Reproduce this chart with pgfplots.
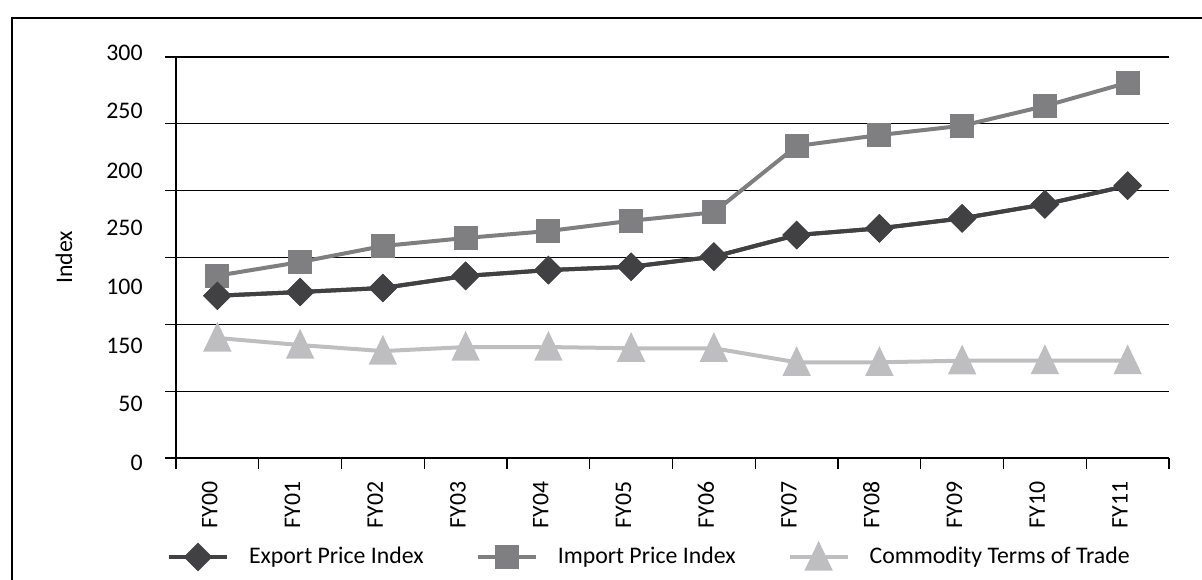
\documentclass[border=0pt]{standalone}
\usepackage{pgfplots}
\pgfplotsset{compat=1.18}
\usepackage{fontspec}
\setmainfont{Carlito}
\definecolor{cexp}{HTML}{414143}
\definecolor{cimp}{HTML}{7F7F82}
\definecolor{ccom}{HTML}{BEBEC1}
\newcommand{\chartfont}{\fontsize{11.9pt}{14pt}\selectfont}
\begin{document}
\chartfont
\begin{tikzpicture}
\useasboundingbox (-88pt,-60.5pt) rectangle (513pt,229pt);
\draw[line width=0.7pt, black] (-82pt,-70pt) -- (-82pt,220pt) -- (520pt,220pt);
\begin{axis}[
  at={(0pt,0pt)}, anchor=south west,
  x=41.375pt, y=0.668333pt,
  xmin=-0.5, xmax=11.5, ymin=0, ymax=300,
  font=\chartfont,
  axis lines*=left,
  axis line style={line width=0.6pt, black},
  ytick={0,50,...,300}, yticklabels={},
  ymajorgrids, grid style={line width=0.6pt, black},
  xtick={0,...,11},
  xticklabels={FY00,FY01,FY02,FY03,FY04,FY05,FY06,FY07,FY08,FY09,FY10,FY11},
  minor xtick={-0.5,0.5,...,11.5},
  major x tick style={draw=none},
  tick align=outside,
  major tick length=5.5pt, minor tick length=5.5pt,
  tick style={line width=0.6pt, black},
  xticklabel style={rotate=90, anchor=base east, inner sep=0pt, font=\chartfont},
  xticklabel shift=6pt,
  ylabel={Index},
  ylabel style={at={(axis description cs:-0.1047,0.5)}, anchor=base, font=\chartfont},
  legend columns=3,
  legend style={draw=none, fill=none, inner sep=0pt, outer sep=0pt,
    at={(axis description cs:-0.00906,-0.2469)}, anchor=west, font=\chartfont,
    /tikz/every odd column/.append style={column sep=8pt},
    /tikz/every even column/.append style={column sep=24pt}},
  legend cell align=left,
  legend image code/.code={\draw[mark repeat=2, mark phase=2] plot coordinates {(0pt,0pt) (14.5pt,0pt) (29pt,0pt)};},
]
\addplot[cexp, line width=2pt, mark=square*, mark size=4.07pt, mark options={rotate=45, solid, fill=cexp, draw=none}]
 coordinates {(0,121.4) (1,124.2) (2,127.2) (3,136.2) (4,140.6) (5,143.1) (6,150.6) (7,166.8) (8,171.8) (9,179.3) (10,189.8) (11,203.7)};
\addlegendentry{Export Price Index}
\addplot[cimp, line width=2pt, mark=square*, mark size=5pt, mark options={solid, fill=cimp, draw=none}]
 coordinates {(0,136.4) (1,146.6) (2,158.6) (3,164.6) (4,169.8) (5,177.5) (6,183.8) (7,233.4) (8,241.6) (9,248.6) (10,263.3) (11,280.8)};
\addlegendentry{Import Price Index}
\addplot[ccom, line width=2pt, mark=triangle*, mark size=6.35pt, mark options={solid, fill=ccom, draw=none, yscale=1.21, yshift=-1.6pt}]
 coordinates {(0,89.8) (1,84.5) (2,80.0) (3,83.0) (4,83.0) (5,82.1) (6,82.1) (7,71.6) (8,71.6) (9,72.8) (10,72.9) (11,72.9)};
\addlegendentry{Commodity Terms of Trade}
\addplot[forget plot, cexp, line width=2pt, mark=square*, mark size=4.07pt, mark options={rotate=45, solid, fill=cexp, draw=none}]
 coordinates {(0,121.4) (1,124.2) (2,127.2) (3,136.2) (4,140.6) (5,143.1) (6,150.6) (7,166.8) (8,171.8) (9,179.3) (10,189.8) (11,203.7)};
\end{axis}
\begin{axis}[
  at={(0pt,-6.68333pt)}, anchor=south west,
  x=41.375pt, y=0.668333pt,
  xmin=-0.5, xmax=11.5, ymin=-10, ymax=310,
  font=\chartfont,
  axis line style={draw=none},
  xtick=\empty,
  ytick={302.8,259.8,215.1,171.9,127.8,83.9,40.2,-3.4},
  yticklabels={300,250,200,250,100,150,50,0},
  major tick length=0pt, tick style={draw=none},
  yticklabel style={anchor=east, inner sep=0pt, font=\chartfont},
  yticklabel shift=16.5pt,
]
\addplot[draw=none] coordinates {(0,0)};
\end{axis}
\end{tikzpicture}
\end{document}
